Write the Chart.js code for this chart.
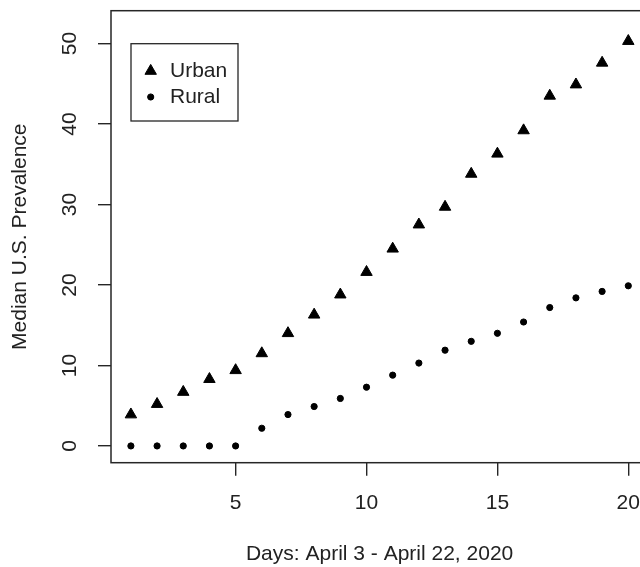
<!DOCTYPE html>
<html>
<head>
<meta charset="utf-8">
<script src="https://cdn.jsdelivr.net/npm/chart.js@4.4.1/dist/chart.umd.min.js"></script>
<style>
  html, body { margin: 0; padding: 0; background: #ffffff; overflow: hidden; width: 640px; height: 567px; }
  #wrap { position: absolute; left: 0; top: 0; width: 700px; height: 567px; }
</style>
</head>
<body>
<div id="wrap"><canvas id="c" width="700" height="567"></canvas></div>
<script>
// ---- data ----
const days = [1, 2, 3, 4, 5, 6, 7, 8, 9, 10, 11, 12, 13, 14, 15, 16, 17, 18, 19, 20];
const urbanValues = [3.9, 5.2, 6.7, 8.3, 9.4, 11.5, 14.0, 16.3, 18.8, 21.6, 24.5, 27.5, 29.7, 33.8, 36.3, 39.2, 43.5, 44.9, 47.6, 50.3];
const ruralValues = [0, 0, 0, 0, 0, 2.2, 3.9, 4.9, 5.9, 7.3, 8.8, 10.3, 11.9, 13.0, 14.0, 15.4, 17.2, 18.4, 19.2, 19.9];
const seriesLabels = ['Urban', 'Rural'];
const xTickValues = [5, 10, 15, 20];
const yTickValues = [0, 10, 20, 30, 40, 50];
const xTitle = 'Days: April 3 - April 22, 2020';
const yTitle = 'Median U.S. Prevalence';

// ---- styles ----
const FONT = { family: '"Liberation Sans", Arial, Helvetica, sans-serif', size: 21 };
const TEXT_COLOR = '#222222';
const LINE_COLOR = '#262626';

const urbanPoints = days.map((d, i) => ({ x: d, y: urbanValues[i] }));
const ruralPoints = days.map((d, i) => ({ x: d, y: ruralValues[i] }));

const framePlugin = {
  id: 'frame',
  afterDraw(chart) {
    const { ctx, chartArea: ca } = chart;
    ctx.save();
    // plot box
    ctx.strokeStyle = LINE_COLOR;
    ctx.lineWidth = 1.5;
    ctx.strokeRect(ca.left, ca.top, ca.right - ca.left, ca.bottom - ca.top);

    // legend box
    const lx = ca.left + 20, ly = ca.top + 33, lw = 107, lh = 77.3;
    ctx.lineWidth = 1.3;
    ctx.strokeRect(lx, ly, lw, lh);
    ctx.font = FONT.size + 'px ' + FONT.family;
    ctx.textBaseline = 'middle';
    ctx.textAlign = 'left';
    chart.data.datasets.forEach((ds, i) => {
      const cy = ly + 27.3 + i * 26;
      const sx = lx + 19.7;
      const opts = { pointStyle: ds.pointStyle, radius: ds.pointRadius, borderWidth: ds.borderWidth, rotation: 0 };
      ctx.fillStyle = ds.backgroundColor;
      ctx.strokeStyle = ds.borderColor;
      ctx.lineWidth = ds.borderWidth;
      if (Chart.helpers && Chart.helpers.drawPoint) {
        Chart.helpers.drawPoint(ctx, opts, sx, cy);
      } else {
        ctx.beginPath();
        ctx.arc(sx, cy, ds.pointRadius, 0, Math.PI * 2);
        ctx.fill();
      }
      ctx.fillStyle = TEXT_COLOR;
      ctx.fillText(ds.label, lx + 39, cy);
    });
    ctx.restore();
  }
};

const gridOpts = {
  display: true,
  drawOnChartArea: false,
  drawTicks: true,
  tickLength: 13,
  color: LINE_COLOR,
  lineWidth: 1.4
};

new Chart(document.getElementById('c'), {
  type: 'scatter',
  data: {
    datasets: [
      {
        label: seriesLabels[0],
        data: urbanPoints,
        pointStyle: 'triangle',
        pointRadius: 6.6,
        borderWidth: 1,
        backgroundColor: '#000000',
        borderColor: '#000000',
        showLine: false
      },
      {
        label: seriesLabels[1],
        data: ruralPoints,
        pointStyle: 'circle',
        pointRadius: 3.1,
        borderWidth: 1,
        backgroundColor: '#000000',
        borderColor: '#000000',
        showLine: false
      }
    ]
  },
  options: {
    responsive: false,
    animation: false,
    events: [],
    layout: { padding: { left: 0, top: 10.7, right: 51.8, bottom: 0 } },
    plugins: {
      legend: { display: false },
      tooltip: { enabled: false }
    },
    scales: {
      x: {
        type: 'linear',
        min: 0.24,
        max: 20.76,
        afterBuildTicks: s => { s.ticks = xTickValues.map(v => ({ value: v })); },
        afterFit: s => { s.height = 567 - 462.7; s.paddingLeft = 0; s.paddingRight = 0; },
        grid: gridOpts,
        border: { display: false },
        ticks: { font: FONT, color: TEXT_COLOR, padding: 15, maxRotation: 0, minRotation: 0, autoSkip: false },
        title: { display: true, text: xTitle, font: FONT, color: TEXT_COLOR, padding: { top: 0, bottom: 0 } }
      },
      y: {
        type: 'linear',
        min: -2.08,
        max: 54.08,
        afterBuildTicks: s => { s.ticks = yTickValues.map(v => ({ value: v })); },
        afterFit: s => { s.width = 111; s.paddingTop = 0; s.paddingBottom = 0; },
        grid: gridOpts,
        border: { display: false },
        ticks: { font: FONT, color: TEXT_COLOR, padding: 16, minRotation: 90, maxRotation: 90, crossAlign: 'center', autoSkip: false },
        title: { display: true, text: yTitle, font: FONT, color: TEXT_COLOR, padding: { top: 8, bottom: 0 } }
      }
    }
  },
  plugins: [framePlugin]
});
</script>
</body>
</html>
